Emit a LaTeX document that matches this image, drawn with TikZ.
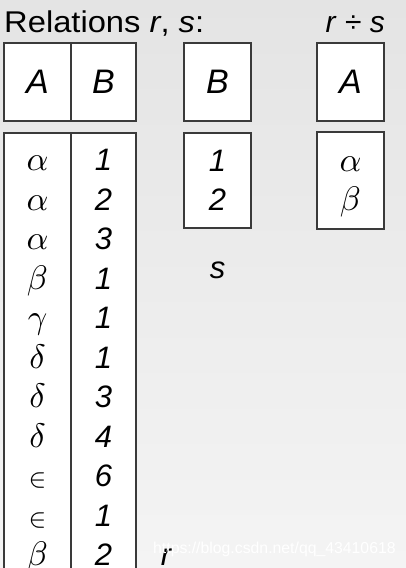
\documentclass[tikz,border=0pt]{standalone}
\usepackage{fontspec}
\setmainfont{Liberation Sans}
\definecolor{linec}{HTML}{3A3A3A}
\definecolor{bgtop}{HTML}{E4E4E4}
\definecolor{bgbot}{HTML}{F4F4F4}
\tikzset{
  cell/.style={draw=linec, fill=white, line width=1.5pt, inner sep=0pt, outer sep=0pt},
  hdr/.style={font=\fontsize{34}{34}\selectfont\itshape},
  val/.style={font=\fontsize{31}{31}\selectfont\itshape, anchor=base, inner sep=0pt},
  gk/.style={font=\fontsize{10}{10}\selectfont, scale=3.4, anchor=base, inner sep=0pt},
  lbl/.style={font=\fontsize{31}{31}\selectfont\itshape, anchor=base, inner sep=0pt},
  ttl/.style={font=\fontsize{30}{30}\selectfont, inner sep=0pt},
  wm/.style={font=\fontsize{15.8}{15.8}\selectfont, text=white, anchor=base west, inner sep=0pt},
}
\begin{document}
\begin{tikzpicture}[x=1pt,y=-1pt]
\useasboundingbox (0,0) rectangle (406,568);
\shade[top color=bgtop, bottom color=bgbot] (0,0) rectangle (406,568);
\clip (0,0) rectangle (406,568);
% title
\node[ttl, anchor=base west, xscale=1.09] (title) at (4,32) {Relations \textit{r}, \textit{s}:};
\node[ttl, anchor=base east] (rdivs) at (385,32) {\textit{r} ÷ \textit{s}};
% headers
\node[cell, hdr, minimum width=67pt, minimum height=78pt] (hA) at (37.5,82) {A};
\node[cell, hdr, minimum width=65pt, minimum height=78pt] (hB) at (103.5,82) {B};
\node[cell, hdr, minimum width=67pt, minimum height=78pt] (hsB) at (217.5,82) {B};
\node[cell, hdr, minimum width=67pt, minimum height=78pt] (hqA) at (350.5,82) {A};
% bodies
\node[cell, minimum width=67pt, minimum height=480pt, anchor=north] (rbA) at (37.5,133) {};
\node[cell, minimum width=65pt, minimum height=480pt, anchor=north] (rbB) at (103.5,133) {};
\node[cell, minimum width=67pt, minimum height=95pt, anchor=north] (sb) at (217.5,133) {};
\node[cell, minimum width=67pt, minimum height=97pt, anchor=north] (qb) at (350.5,132) {};
% r values
\foreach \g/\d [count=\i from 0] in {\alpha/1,\alpha/2,\alpha/3,\beta/1,\gamma/1,\delta/1,\delta/3,\delta/4,\scriptstyle\in/6,\scriptstyle\in/1,\beta/2}{
  \node[gk] (ra\i) at (37.5,170.5+39.5*\i) {$\g$};
  \node[val] (rb\i) at (103.5,170.5+39.5*\i) {\d};
}
% s values
\node[val] (s0) at (217.5,171) {1};
\node[val] (s1) at (217.5,210.5) {2};
% result values
\node[gk] (q0) at (350.5,171) {$\alpha$};
\node[gk] (q1) at (350.5,210.5) {$\beta$};
% labels
\node[lbl] (slab) at (217.5,278) {s};
\node[lbl] (rlab) at (166,565) {r};
% watermark
\node[wm] (wmark) at (153,553) {https://blog.csdn.net/qq\_43410618};
\end{tikzpicture}
\end{document}
